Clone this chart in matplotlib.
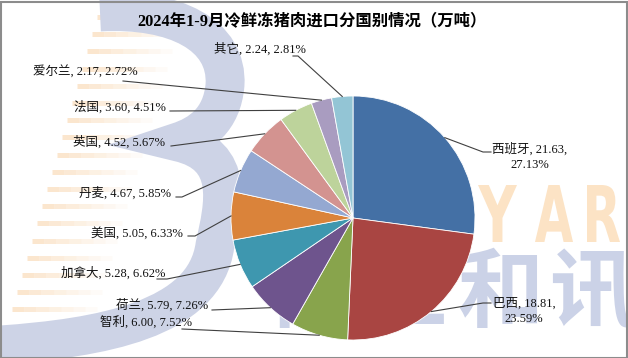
import numpy as np
import matplotlib.pyplot as plt
from matplotlib.patches import Rectangle, PathPatch
from matplotlib.path import Path
from matplotlib.textpath import TextPath
from matplotlib.font_manager import FontProperties
from matplotlib.transforms import Affine2D

# ---------------------------------------------------------
# data (万吨, share %) - clockwise from 12 o'clock
# ---------------------------------------------------------
countries = ["西班牙", "巴西", "智利", "荷兰", "加拿大", "美国", "丹麦", "英国", "法国", "爱尔兰", "其它"]
volumes = [21.63, 18.81, 6.00, 5.79, 5.28, 5.05, 4.67, 4.52, 3.60, 2.17, 2.24]
shares = [27.13, 23.59, 7.52, 7.26, 6.62, 6.33, 5.85, 5.67, 4.51, 2.72, 2.81]
colors = ["#4470a5", "#a94542", "#88a44c", "#6e548d", "#3e97af", "#da833a",
          "#94a8d1", "#d39390", "#bdd39b", "#a99cc0", "#93c5d5"]
title = "2024年1-9月冷鲜冻猪肉进口分国别情况（万吨）"

W, H = 628, 358          # canvas in pixels, 1 data unit = 1 px
CX, CY, R = 353, 218, 122

FONT = ["Liberation Serif", "Noto Sans CJK SC", "DejaVu Sans"]

# label layout: text anchor (x, y, ha) and leader points from text to pie
label_layout = [
    (530, 157, "center", [(491, 152), (483, 152)]),
    (524, 311, "center", [(491, 303), (483, 303)]),
    (192, 322, "right", [(182, 329)]),
    (208, 305, "right", [(212, 310)]),
    (165, 273, "right", [(157, 279), (167, 279)]),
    (183, 233, "right", [(188, 236), (195, 236)]),
    (171, 193, "right", [(176, 197), (182, 197)]),
    (165, 142, "right", [(171, 146)]),
    (166, 107, "right", [(170, 111)]),
    (138, 72, "right", [(123, 81)]),
    (306, 49, "right", [(293, 56), (298, 56)]),
]


def Y(y):
    # pixel-from-top -> data y
    return H - y


def fit_glyph(ax, ch, x0, x1, ytop, ybot, color, prop):
    tp = TextPath((0, 0), ch, size=100, prop=prop)
    ext = tp.get_extents()
    tr = (Affine2D().translate(-ext.x0, -ext.y0)
          .scale((x1 - x0) / ext.width, (ybot - ytop) / ext.height)
          .translate(x0, Y(ybot)))
    ax.add_patch(PathPatch(tr.transform_path(tp), facecolor=color,
                           edgecolor="none", zorder=1))


def draw_watermark(ax):
    # orange stripes (stem of the "B")
    for y in np.arange(17, 350, 17.2):
        x0 = 97 - 0.29 * (y - 17)
        seg = np.linspace(x0, x0 + 85, 8)
        for i in range(7):
            ax.plot([seg[i], seg[i + 1]], [Y(y), Y(y)], color="#f9d6ae",
                    lw=3.6, alpha=0.6 * (1 - i / 7), solid_capstyle="butt", zorder=0)

    # blue band of the "B"
    pts = [(100, 12),
           (175, 8), (228, 35), (225, 85),
           (222, 120), (200, 135), (178, 142),
           (236, 155), (224, 205), (215, 245),
           (205, 320), (100, 338), (0, 345)]
    codes = [Path.MOVETO] + [Path.CURVE4] * 12
    path = Path([(x, Y(y)) for x, y in pts], codes)
    ax.add_patch(PathPatch(path, facecolor="none", edgecolor="#cdd3e6",
                           lw=28, capstyle="butt", zorder=1))

    # YAR letters
    bold = FontProperties(family="DejaVu Sans", weight="bold")
    for ch, (x0, x1) in zip("YAR", [(478, 517), (535, 573), (587, 620)]):
        fit_glyph(ax, ch, x0, x1, 185, 242, "#fce3c5", bold)

    # 商业和讯
    for ch, x in zip("商业和讯", [313, 405, 500, 592]):
        ax.text(x, Y(250), ch, fontsize=62, color="#cbd2e7", ha="center",
                va="top", family="Noto Sans CJK SC", fontweight="bold", zorder=1)


def main():
    fig = plt.figure(figsize=(W / 100, H / 100), dpi=100)
    ax = fig.add_axes([0, 0, 1, 1])

    draw_watermark(ax)

    wedges, _ = ax.pie(volumes, colors=colors, startangle=90, counterclock=False,
                       center=(CX, Y(CY)), radius=R,
                       wedgeprops=dict(edgecolor="white", linewidth=0.6))
    for w in wedges:
        w.set_zorder(2)

    for wdg, name, v, s, (tx, ty, ha, pts) in zip(wedges, countries, volumes, shares, label_layout):
        ang = np.deg2rad((wdg.theta1 + wdg.theta2) / 2)
        ex, ey = CX + R * np.cos(ang), Y(CY) + R * np.sin(ang)
        xs = [p[0] for p in pts] + [ex]
        ys = [Y(p[1]) for p in pts] + [ey]
        ax.plot(xs, ys, color="#404040", lw=0.8, zorder=3)
        if ha == "center":
            txt = f"{name}, {v:.2f},\n{s:.2f}%"
        else:
            txt = f"{name}, {v:.2f}, {s:.2f}%"
        ax.text(tx, Y(ty), txt, ha=ha, va="center", fontsize=9, family=FONT,
                color="#111111", linespacing=1.35, zorder=4)

    ax.text(312, Y(21), title, ha="center", va="center", fontsize=11.8,
            fontweight="bold", family=FONT, color="#000000", zorder=4)

    ax.set_xlim(0, W)
    ax.set_ylim(0, H)
    ax.set_aspect("auto")
    ax.axis("off")

    fig.patches.append(Rectangle((0.5 / W, 0.5 / H), 1 - 2 / W, 1 - 2 / H,
                                 transform=fig.transFigure, fill=False,
                                 edgecolor="#8c8c8c", lw=1.5))

    fig.savefig("out.png", dpi=100)


if __name__ == "__main__":
    main()
